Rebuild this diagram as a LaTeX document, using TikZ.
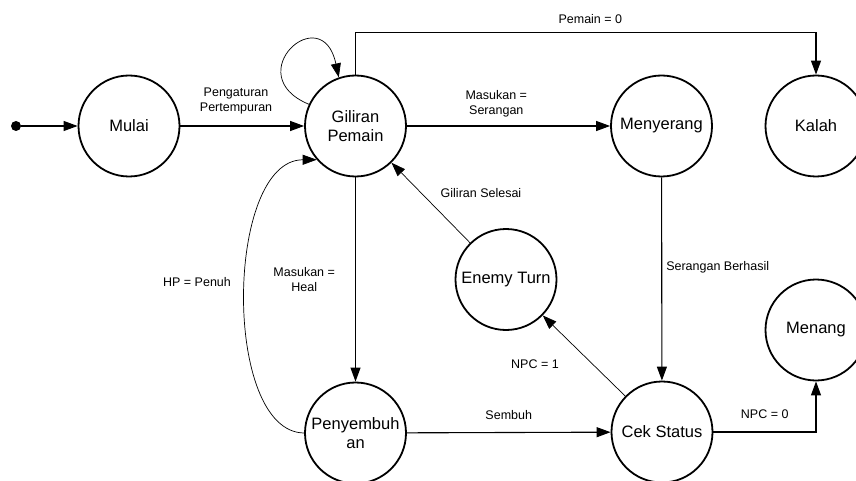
\documentclass[tikz,border=0pt]{standalone}
\usepackage{fontspec}
\setmainfont{Liberation Sans}
\usetikzlibrary{arrows.meta}

\tikzset{
  state/.style={draw,circle,line width=1.8pt,minimum size=101pt,inner sep=0pt,align=center,font=\fontsize{16.5}{18.5}\selectfont},
  lbl/.style={font=\fontsize{12.5}{15}\selectfont,align=center,inner sep=3pt},
  edge/.style={->,line width=1.1pt},
  thinedge/.style={->,line width=0.7pt}
}

\begin{document}
\begin{tikzpicture}[x=1pt,y=-1pt,>={Triangle[length=14pt,width=10pt]}]
            \useasboundingbox (0,0) rectangle (856,481);
            \clip (0,0) rectangle (856,481);
            % states
            \node[circle,fill,inner sep=0pt,minimum size=10pt] (start) at (16,126) {};
            \node[state] (mulai) at (129,126) {Mulai};
            \node[state] (giliran) at (355.5,126) {Giliran\\Pemain};
            \node[state] (menyerang) at (661.5,126) {Menyerang};
            \node[state] (kalah) at (816,126) {Kalah};
            \node[state] (enemy) at (506,279.5) {Enemy Turn};
            \node[state] (menang) at (816,330) {Menang};
            \node[state] (penyembuhan) at (355.5,433) {Penyembuh\\an};
            \node[state] (cek) at (662,432) {Cek Status};
            % transitions
            \draw[edge] (start) -- (mulai);
            \draw[edge] (mulai) -- (giliran) node[lbl,pos=0.45,above=8pt] (lpengaturan) {Pengaturan\\Pertempuran};
            \draw[thinedge] (giliran.155) .. controls (238,75) and (322,-2) .. (giliran.109);
            \draw[edge] (giliran.north) -- ++(0,-42) coordinate (atas) -- (atas -| kalah) node[lbl,pos=0.51,above=5pt] (lpemain) {Pemain = 0} -- (kalah.north);
            \draw[edge] (giliran) -- (menyerang) node[lbl,pos=0.44,above=5pt] (lserang) {Masukan =\\Serangan};
            \draw[edge] (giliran) -- (penyembuhan) node[lbl,midway,left=17pt] (lheal) {Masukan =\\Heal};
            \draw[thinedge] (penyembuhan.west) .. controls (222,432) and (225,160) .. (giliran.221);
            \node[lbl] (lpenuh) at (197,282) {HP = Penuh};
            \draw[edge] (penyembuhan) -- (cek) node[lbl,midway,above=9pt] (lsembuh) {Sembuh};
            \draw[edge] (menyerang) -- (cek) node[lbl,pos=0.44,right=1pt] (lberhasil) {Serangan Berhasil};
            \draw[edge] (cek.east) -| (menang.south) node[lbl,pos=0.25,above=10pt] (lnpc0) {NPC = 0};
            \draw[thinedge] (cek) -- (enemy);
            \node[lbl] (lnpc1) at (535,364) {NPC = 1};
            \draw[thinedge] (enemy) -- (giliran);
            \node[lbl] (lselesai) at (481,193) {Giliran Selesai};
        \end{tikzpicture}
\end{document}
